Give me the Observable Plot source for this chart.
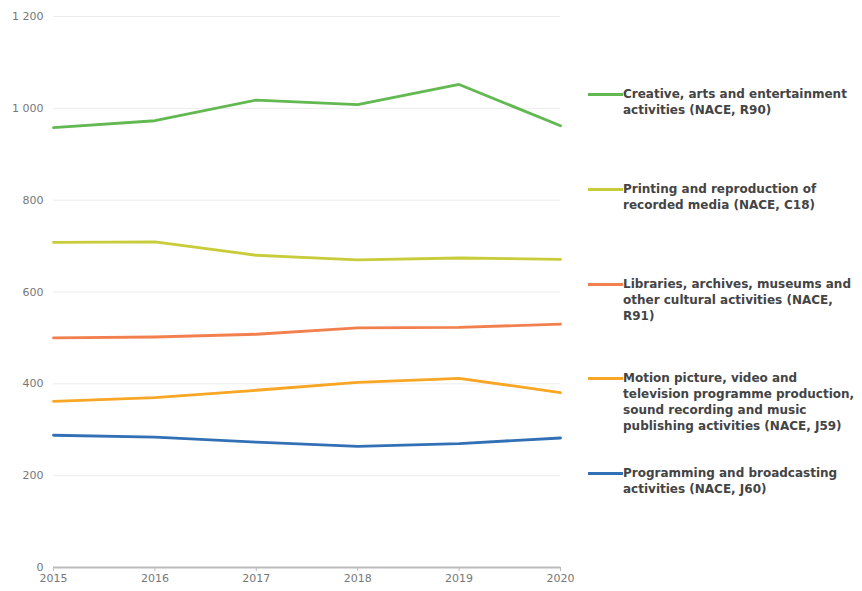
<!DOCTYPE html>
<html><head><meta charset="utf-8">
<script src="https://cdn.jsdelivr.net/npm/d3@7"></script>
<script src="https://cdn.jsdelivr.net/npm/@observablehq/plot@0.6"></script>
<style>
body{margin:0;background:#fff;font-family:"DejaVu Sans",sans-serif;}
#wrap{position:relative;width:862px;height:591px;overflow:hidden}
#legend{position:absolute;left:588px;top:0;width:274px;height:591px}
.item{position:absolute;left:0;display:flex;align-items:flex-start}
.sw{width:35px;height:3px;margin-top:7px;margin-right:0px;flex:none}
.lab{font-family:"DejaVu Sans",sans-serif;font-size:12px;line-height:16px;color:#444;font-weight:bold;white-space:nowrap}
</style></head><body><div id="wrap"><div id="legend"></div></div>
<script>
const years = [2015, 2016, 2017, 2018, 2019, 2020];
const yTicks = [0, 200, 400, 600, 800, 1000, 1200];

const seriesNames = [
  "Creative, arts and entertainment activities (NACE, R90)",
  "Printing and reproduction of recorded media (NACE, C18)",
  "Libraries, archives, museums and other cultural activities (NACE, R91)",
  "Motion picture, video and television programme production, sound recording and music publishing activities (NACE, J59)",
  "Programming and broadcasting activities (NACE, J60)"
];
const legendLines = [
  ["Creative, arts and entertainment", "activities (NACE, R90)"],
  ["Printing and reproduction of", "recorded media (NACE, C18)"],
  ["Libraries, archives, museums and", "other cultural activities (NACE,", "R91)"],
  ["Motion picture, video and", "television programme production,", "sound recording and music", "publishing activities (NACE, J59)"],
  ["Programming and broadcasting", "activities (NACE, J60)"]
];
const creative    = [958, 973, 1018, 1008, 1052, 962];
const printing    = [708, 709, 680, 670, 674, 671];
const libraries   = [500, 502, 508, 522, 523, 530];
const motion      = [362, 370, 386, 403, 412, 381];
const programming = [288, 284, 273, 264, 270, 282];
const colors = ["#62b851", "#c9cc3a", "#f2804f", "#f8a623", "#3270b5"];

const allSeries = [creative, printing, libraries, motion, programming];
const rows = allSeries.flatMap((vals, i) => years.map((yr, j) => ({year: yr, value: vals[j], series: seriesNames[i]})));

const loc = d3.formatLocale({thousands: " ", grouping: [3], decimal: ","});
const fmt = loc.format(",");

const chart = Plot.plot({
  width: 862, height: 591,
  marginLeft: 53, marginRight: 302, marginTop: 16, marginBottom: 24,
  style: {fontFamily: "'DejaVu Sans', sans-serif", fontSize: "11px", color: "#666", background: "#fff"},
  x: {domain: [2015, 2020], label: null},
  y: {domain: [0, 1200], label: null},
  color: {domain: seriesNames, range: colors},
  marks: [
    Plot.gridY(yTicks.filter(t => t > 0), {stroke: "#ececec", strokeOpacity: 1, strokeWidth: 1}),
    Plot.axisY({ticks: yTicks, tickFormat: fmt, tickSize: 0, tickPadding: 10, fill: "#777", label: null}),
    Plot.axisX({ticks: years, tickFormat: d => String(d), tickSize: 4, tickPadding: 3, stroke: "#bbb", fill: "#777", label: null}),
    Plot.ruleY([0], {stroke: "#bbb", strokeWidth: 2}),
    Plot.line(rows, {x: "year", y: "value", z: "series", stroke: "series", strokeWidth: 2.8, curve: "linear"})
  ]
});
document.getElementById("wrap").prepend(chart);

const legend = document.getElementById("legend");
legendLines.forEach((lines, i) => {
  const item = document.createElement("div");
  item.className = "item";
  item.style.top = (86 + i * 94.8) + "px";
  const sw = document.createElement("div");
  sw.className = "sw";
  sw.style.background = colors[i];
  const lab = document.createElement("div");
  lab.className = "lab";
  lab.innerHTML = lines.map(l => l.replace(/&/g, "&amp;")).join("<br>");
  item.append(sw, lab);
  legend.append(item);
});
</script></body></html>
